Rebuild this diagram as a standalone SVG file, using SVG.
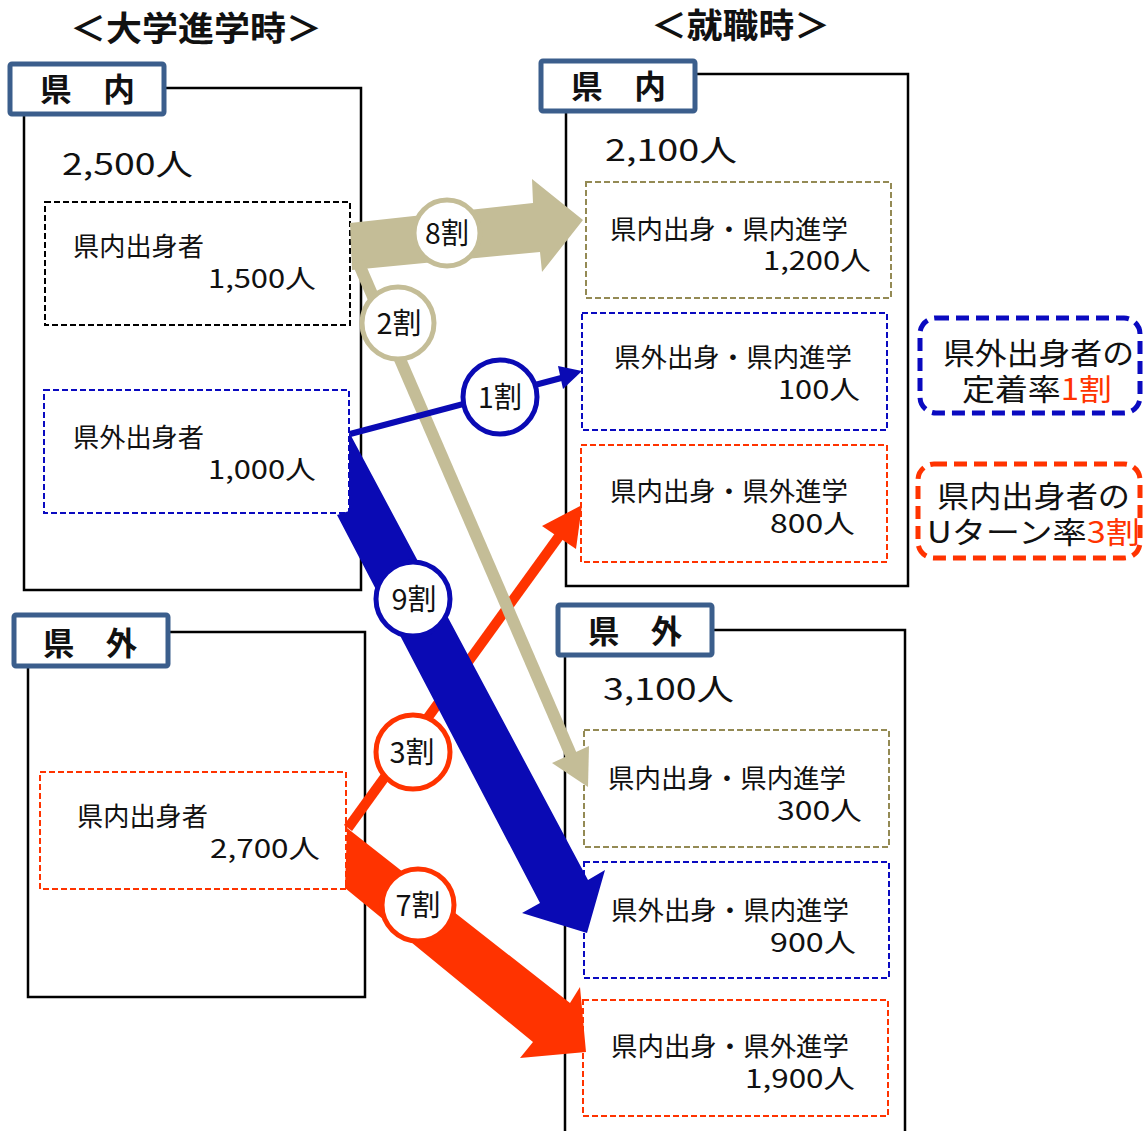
<svg xmlns="http://www.w3.org/2000/svg" width="1144" height="1131" viewBox="0 0 1144 1131">
<defs>
<style>
.t{font-family:"Noto Sans CJK JP","Noto Sans CJK SC",sans-serif;fill:#111}
.title{font-size:34px;font-weight:bold}
.hdrt{font-size:32px;font-weight:bold}
.tot{font-size:30px}
.lbl{font-size:26px}
.note{font-size:30px}
.pct{font-size:29px;text-anchor:middle}
.red{fill:#FF3300}
.box{fill:#fff;stroke:#000;stroke-width:2.5}
.hdr{fill:#fff;stroke:#3B5E8C;stroke-width:5}
.dash{fill:none;stroke-width:2;stroke-dasharray:6 3}
.dk{stroke:#000}
.tan{stroke:#948A54}
.blu{stroke:#0A0AC0}
.org{stroke:#FF3300}
.call{fill:none;stroke-width:5;stroke-dasharray:13 7}
.circ{fill:#fff;stroke-width:5}
</style>
</defs>
<rect width="1144" height="1131" fill="#fff"/>

<g id="titles">
<text class="t title" x="70" y="41" textLength="252" lengthAdjust="spacingAndGlyphs">＜大学進学時＞</text>
<text class="t title" x="651" y="38" textLength="179" lengthAdjust="spacingAndGlyphs">＜就職時＞</text>
</g>

<!-- Left: at university entrance -->
<g id="src-in">
<rect class="box" x="24" y="88" width="337" height="502"/>
<rect class="hdr" x="10" y="64" width="154" height="50" rx="2"/>
<text class="t hdrt" x="40" y="101" textLength="95" lengthAdjust="spacingAndGlyphs">県　内</text>
<text class="t tot" x="62" y="175" textLength="131" lengthAdjust="spacingAndGlyphs">2,500人</text>
</g>
<g id="src-in-local">
<rect class="dash dk" x="45" y="202" width="305" height="123"/>
<text class="t lbl" x="73" y="256" textLength="131" lengthAdjust="spacingAndGlyphs">県内出身者</text>
<text class="t lbl" x="208" y="288" textLength="108" lengthAdjust="spacingAndGlyphs">1,500人</text>
</g>
<g id="src-in-other">
<rect class="dash blu" x="44" y="390" width="305" height="123"/>
<text class="t lbl" x="73" y="447" textLength="131" lengthAdjust="spacingAndGlyphs">県外出身者</text>
<text class="t lbl" x="208" y="479" textLength="108" lengthAdjust="spacingAndGlyphs">1,000人</text>
</g>
<g id="src-out">
<rect class="box" x="28" y="632" width="337" height="365"/>
<rect class="hdr" x="14" y="615" width="154" height="51" rx="2"/>
<text class="t hdrt" x="43" y="655" textLength="94" lengthAdjust="spacingAndGlyphs">県　外</text>
</g>
<g id="src-out-local">
<rect class="dash org" x="40" y="772" width="306" height="117"/>
<text class="t lbl" x="77" y="826" textLength="131" lengthAdjust="spacingAndGlyphs">県内出身者</text>
<text class="t lbl" x="210" y="858" textLength="110" lengthAdjust="spacingAndGlyphs">2,700人</text>
</g>

<!-- Right: at employment -->
<g id="dst-in">
<rect class="box" x="566" y="74" width="342" height="512"/>
<rect class="hdr" x="541" y="61" width="154" height="50" rx="2"/>
<text class="t hdrt" x="571" y="98" textLength="95" lengthAdjust="spacingAndGlyphs">県　内</text>
<text class="t tot" x="605" y="161" textLength="132" lengthAdjust="spacingAndGlyphs">2,100人</text>
</g>
<g id="dst-in-ll">
<rect class="dash tan" x="586" y="182" width="305" height="116"/>
<text class="t lbl" x="610" y="239" textLength="238" lengthAdjust="spacingAndGlyphs">県内出身・県内進学</text>
<text class="t lbl" x="763" y="270" textLength="108" lengthAdjust="spacingAndGlyphs">1,200人</text>
</g>
<g id="dst-in-ol">
<rect class="dash blu" x="582" y="313" width="305" height="117"/>
<text class="t lbl" x="614" y="367" textLength="238" lengthAdjust="spacingAndGlyphs">県外出身・県内進学</text>
<text class="t lbl" x="778" y="399" textLength="82" lengthAdjust="spacingAndGlyphs">100人</text>
</g>
<g id="dst-in-lo">
<rect class="dash org" x="581" y="445" width="306" height="117"/>
<text class="t lbl" x="610" y="501" textLength="238" lengthAdjust="spacingAndGlyphs">県内出身・県外進学</text>
<text class="t lbl" x="770" y="533" textLength="85" lengthAdjust="spacingAndGlyphs">800人</text>
</g>
<g id="dst-out">
<rect class="box" x="565" y="630" width="340" height="520"/>
<rect class="hdr" x="558" y="605" width="154" height="50" rx="2"/>
<text class="t hdrt" x="588" y="643" textLength="94" lengthAdjust="spacingAndGlyphs">県　外</text>
<text class="t tot" x="603" y="700" textLength="131" lengthAdjust="spacingAndGlyphs">3,100人</text>
</g>
<g id="dst-out-ll">
<rect class="dash tan" x="584" y="730" width="305" height="117"/>
<text class="t lbl" x="608" y="788" textLength="238" lengthAdjust="spacingAndGlyphs">県内出身・県内進学</text>
<text class="t lbl" x="777" y="820" textLength="85" lengthAdjust="spacingAndGlyphs">300人</text>
</g>
<g id="dst-out-ol">
<rect class="dash blu" x="584" y="862" width="305" height="116"/>
<text class="t lbl" x="611" y="920" textLength="238" lengthAdjust="spacingAndGlyphs">県外出身・県内進学</text>
<text class="t lbl" x="770" y="952" textLength="86" lengthAdjust="spacingAndGlyphs">900人</text>
</g>
<g id="dst-out-lo">
<rect class="dash org" x="583" y="1000" width="305" height="116"/>
<text class="t lbl" x="611" y="1056" textLength="238" lengthAdjust="spacingAndGlyphs">県内出身・県外進学</text>
<text class="t lbl" x="745" y="1088" textLength="110" lengthAdjust="spacingAndGlyphs">1,900人</text>
</g>

<!-- Notes -->
<g id="note-retention">
<rect class="call blu" x="920" y="318" width="220" height="95" rx="16"/>
<text class="t note" x="943" y="364" textLength="191" lengthAdjust="spacingAndGlyphs">県外出身者の</text>
<text class="t note" x="962" y="400" textLength="150" lengthAdjust="spacingAndGlyphs">定着率<tspan class="red">1割</tspan></text>
</g>
<g id="note-uturn">
<rect class="call org" x="918" y="464" width="222" height="94" rx="16"/>
<text class="t note" x="937" y="507" textLength="193" lengthAdjust="spacingAndGlyphs">県内出身者の</text>
<text class="t note" x="927" y="543" textLength="213" lengthAdjust="spacingAndGlyphs">Uターン率<tspan class="red">3割</tspan></text>
</g>

<!-- Connectors -->
<g id="connectors">
<!-- 3割 -->
<line x1="348" y1="828" x2="565" y2="528" stroke="#FF3300" stroke-width="10"/>
<polygon points="542,526 582,505 576,549" fill="#FF3300"/>
<!-- 7割 -->
<polygon points="347,828 570,1003 580,987 586,1052 520,1058 533,1042 345,888" fill="#FF3300"/>
<!-- 9割 -->
<polygon points="349,432 588,880 605,870 587,933 522,913 540,903 337,515 349,511" fill="#0A0AB4"/>
<!-- 8割 -->
<polygon points="350,223 533,203 532,179 583,220 542,272 540,252 352,270" fill="#C4BD97"/>
<!-- 2割 -->
<line x1="358" y1="262" x2="574" y2="762" stroke="#C4BD97" stroke-width="12"/>
<polygon points="552,763 589,746 588,787" fill="#C4BD97"/>
<!-- 1割 -->
<line x1="350" y1="434" x2="565" y2="377" stroke="#0A0AB4" stroke-width="6"/>
<polygon points="558,366 582,371 563,389" fill="#0A0AB4"/>

<circle class="circ" cx="447" cy="233" r="33" stroke="#C4BD97"/>
<text class="t pct" x="447" y="244" textLength="44" lengthAdjust="spacingAndGlyphs">8割</text>
<circle class="circ" cx="398" cy="323" r="36" stroke="#C4BD97"/>
<text class="t pct" x="399" y="334" textLength="45" lengthAdjust="spacingAndGlyphs">2割</text>
<circle class="circ" cx="500" cy="397" r="37" stroke="#0A0AB4"/>
<text class="t pct" x="500" y="408" textLength="44" lengthAdjust="spacingAndGlyphs">1割</text>
<circle class="circ" cx="413" cy="599" r="37" stroke="#0A0AB4"/>
<text class="t pct" x="414" y="610" textLength="45" lengthAdjust="spacingAndGlyphs">9割</text>
<circle class="circ" cx="413" cy="752" r="37" stroke="#FF3300"/>
<text class="t pct" x="412" y="763" textLength="45" lengthAdjust="spacingAndGlyphs">3割</text>
<circle class="circ" cx="418" cy="905" r="36" stroke="#FF3300"/>
<text class="t pct" x="418" y="916" textLength="45" lengthAdjust="spacingAndGlyphs">7割</text>
</g>
</svg>
